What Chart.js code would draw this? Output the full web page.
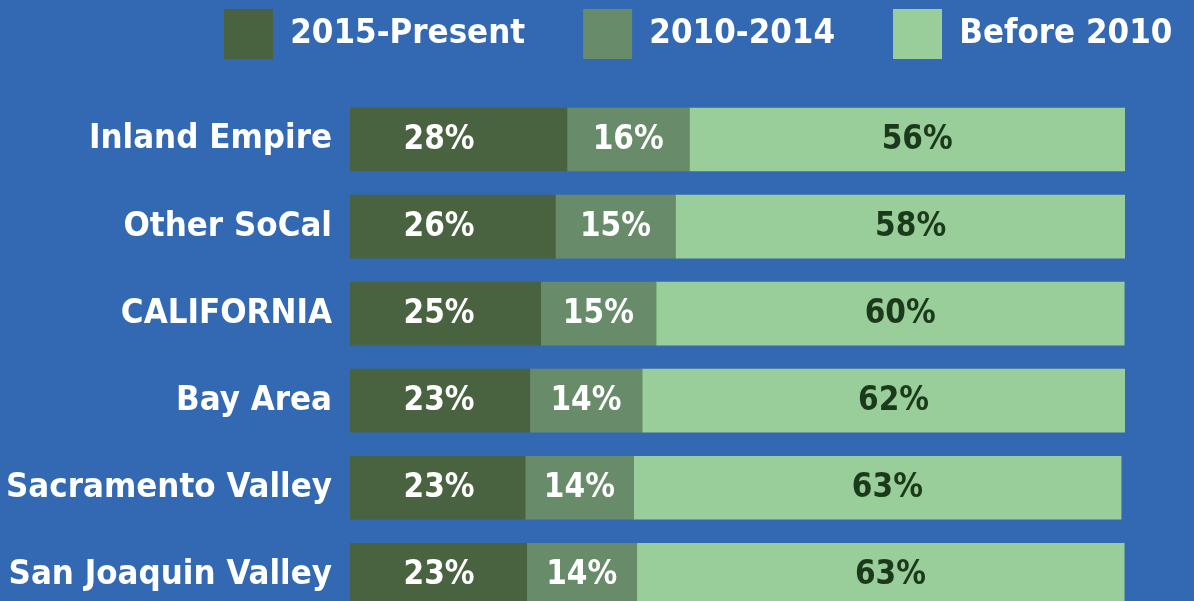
<!DOCTYPE html>
<html>
<head>
<meta charset="utf-8">
<script src="https://cdn.jsdelivr.net/npm/chart.js@4/dist/chart.umd.min.js"></script>
<style>
  html, body { margin: 0; padding: 0; background: #3369b3; overflow: hidden; }
  #wrap { position: relative; width: 1194px; height: 657px; }
</style>
</head>
<body>
<div id="wrap"><canvas id="chart"></canvas></div>
<script>
// Regions, top to bottom
const regions = ['Inland Empire', 'Other SoCal', 'CALIFORNIA', 'Bay Area', 'Sacramento Valley', 'San Joaquin Valley'];

// Share of residents by year moved in (%)
const since2015 = [28.0, 26.5, 24.6, 23.2, 22.6, 22.8];
const from2010to2014 = [15.8, 15.5, 14.9, 14.5, 14.0, 14.2];
const before2010 = [56.2, 58.1, 60.4, 62.3, 62.9, 62.9];

// Printed labels
const since2015Labels = [28, 26, 25, 23, 23, 23];
const from2010Labels = [16, 15, 15, 14, 14, 14];
const before2010Labels = [56, 58, 60, 62, 63, 63];

const FONT = '"DejaVu Sans Condensed", "Liberation Sans Narrow", sans-serif';
const LEGEND_PAD = 58;

// draws the % inside each segment
const segmentLabels = {
  id: 'segmentLabels',
  afterDatasetsDraw(chart) {
    const ctx = chart.ctx;
    ctx.save();
    ctx.font = 'bold 33px ' + FONT;
    ctx.textAlign = 'center';
    ctx.textBaseline = 'middle';
    chart.data.datasets.forEach((ds, i) => {
      const meta = chart.getDatasetMeta(i);
      meta.data.forEach((bar, j) => {
        let x;
        if (ds.labelPos === 'fixed') x = Math.min(bar.base, bar.x) + 89;
        else x = (bar.base + bar.x) / 2 + (ds.labelShift || 0);
        ctx.fillStyle = ds.labelColor;
        ctx.fillText(ds.printed[j] + '%', x, bar.y + 1);
      });
    });
    ctx.restore();
  }
};

// legend sits in the top band, starting at x=224
const legendPlace = {
  id: 'legendPlace',
  beforeInit(chart) {
    const fit = chart.legend.fit;
    chart.legend.fit = function () {
      fit.bind(chart.legend)();
      this.height = 96;
    };
  },
  afterLayout(chart) {
    const lg = chart.legend;
    lg.left = 224 - LEGEND_PAD;
    lg.right = chart.width + 300;
    lg.top = 9 - LEGEND_PAD;
  }
};

new Chart(document.getElementById('chart'), {
  type: 'bar',
  data: {
    labels: regions,
    datasets: [
      { label: '2015-Present', data: since2015, printed: since2015Labels, backgroundColor: '#496340', labelColor: '#ffffff', labelPos: 'fixed' },
      { label: '2010-2014', data: from2010to2014, printed: from2010Labels, backgroundColor: '#688b6a', labelColor: '#ffffff' },
      { label: 'Before 2010', data: before2010, printed: before2010Labels, backgroundColor: '#99cd99', labelColor: '#1b3a1b', labelShift: 10 },
    ],
  },
  options: {
    indexAxis: 'y',
    responsive: true, maintainAspectRatio: false,
    animation: false,
    barThickness: 63,
    layout: { padding: { top: 0, right: 69, left: 0, bottom: 0 } },
    plugins: {
      legend: {
        position: 'top', align: 'start',
        labels: {
          color: '#ffffff', boxWidth: 49, boxHeight: 50, padding: LEGEND_PAD,
          font: { family: FONT, size: 34.5, weight: 'bold' },
        },
      },
      tooltip: { enabled: false },
    },
    scales: {
      x: { stacked: true, min: 0, max: 100, display: false },
      y: {
        stacked: true,
        grid: { display: false, drawTicks: false }, border: { display: false },
        ticks: { color: '#ffffff', padding: 18, font: { family: FONT, size: 34.5, weight: 'bold' } },
        afterFit(scale) { scale.width = 350; },
      },
    },
  },
  plugins: [segmentLabels, legendPlace],
});
</script>
</body>
</html>
